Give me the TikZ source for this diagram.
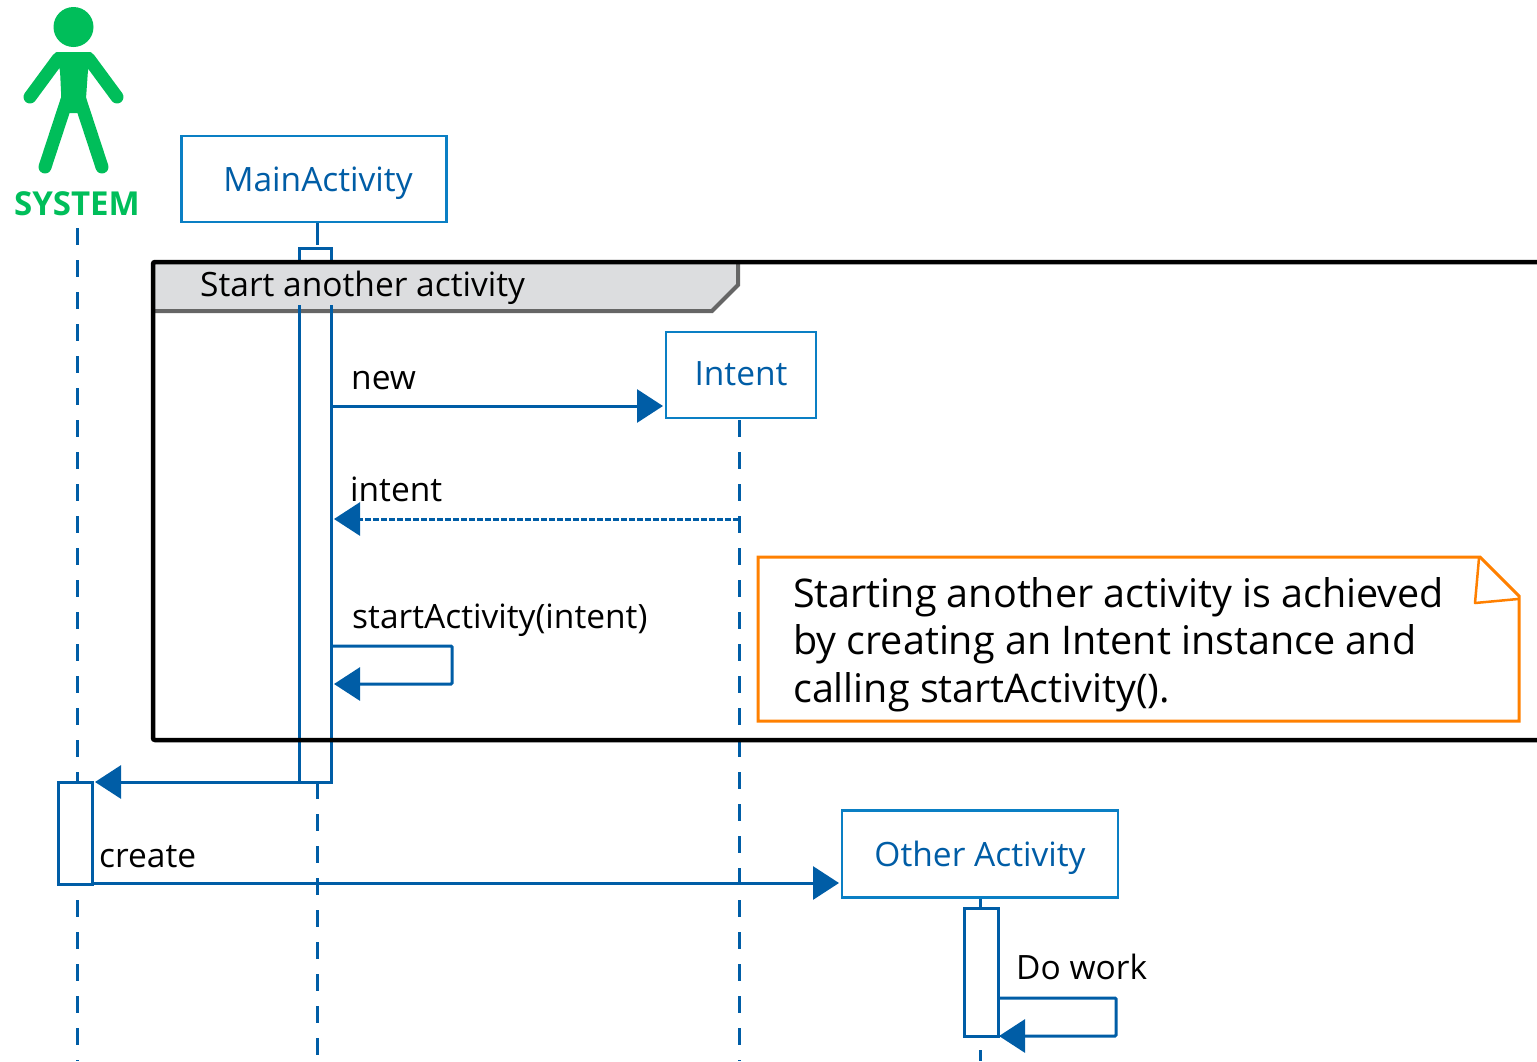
\documentclass[tikz,border=0pt]{standalone}
\usepackage{fontspec}
\setmainfont{Open Sans}
\usetikzlibrary{arrows.meta}
\definecolor{seqblue}{HTML}{005DA6}
\definecolor{boxblue}{HTML}{0A7FC4}
\definecolor{actorgreen}{HTML}{00BE5A}
\definecolor{noteorange}{HTML}{FF8000}
\definecolor{tabgray}{HTML}{DCDDDF}
\tikzset{
    lifebox/.style={draw=boxblue, line width=2.5pt, fill=white, text=seqblue, inner sep=0pt, text height=24pt, text depth=0pt, font=\fontsize{33.5}{36}\selectfont},
    lifeline/.style={seqblue, line width=3pt, dash pattern=on 17pt off 15pt},
    actbar/.style={draw=seqblue, line width=3pt, fill=white, anchor=north west, inner sep=0pt, outer sep=0pt},
    msg/.style={seqblue, line width=3pt, -{Triangle[length=26pt,width=33pt]}},
    msglabel/.style={anchor=base west, inner sep=0pt, text=black, font=\fontsize{33.5}{36}\selectfont},
    limb/.style={actorgreen, line width=13pt, line cap=round},
}
\begin{document}
\begin{tikzpicture}[x=1pt, y=-1pt]
    \useasboundingbox (0,0) rectangle (1537,1061);

    % Draw actor
    \fill[actorgreen] (73.5,27) circle (20);
    \fill[actorgreen, rounded corners=3pt] (54,52) -- (93,52) -- (88,70) -- (85,113) -- (62,113) -- (60,70) -- cycle;
    \draw[limb] (30,97) -- (58,59);
    \draw[limb] (117,97) -- (89,59);
    \draw[limb] (45,167) -- (67,100);
    \draw[limb] (102,167) -- (80,100);
    \node[text=actorgreen, inner sep=0pt, anchor=base, font=\bfseries\fontsize{33}{36}\selectfont] (system) at (77,215) {SYSTEM};

    % Draw lifeline heads
    \node[lifebox, minimum width=265pt, minimum height=86pt] (main) at (314,179) {\hspace*{8pt}MainActivity};
    \node[lifebox, minimum width=150pt, minimum height=86pt, text height=20pt] (intent) at (741,375) {Intent};
    \node[lifebox, minimum width=276pt, minimum height=87pt] (other) at (980,854) {Other Activity};

    % Draw lifelines
    \coordinate (systemtop) at (77,228);
    \coordinate (systemend) at (77,1061);
    \coordinate (maintop) at (317,245);
    \coordinate (mainlow) at (317,782);
    \coordinate (mainend) at (317,1061);
    \coordinate (intenttop) at (739,420);
    \coordinate (intentend) at (739,1061);
    \coordinate (othertop) at (980,908);
    \coordinate (otherlow) at (980,1050);
    \coordinate (otherend) at (980,1061);
    \draw[lifeline] (systemtop) -- (systemend);
    \draw[lifeline] (mainlow) -- (mainend);
    \draw[lifeline] (intenttop) -- (intentend);
    \draw[seqblue, line width=3pt] (main.south -| maintop) -- (maintop);
    \draw[seqblue, line width=3pt] (other.south -| othertop) -- (othertop);
    \draw[seqblue, line width=3pt] (otherlow) -- (otherend);

    % Draw activation bars
    \node[actbar, minimum width=32pt, minimum height=534pt] (mainbar) at (299,248) {};
    \node[actbar, minimum width=34pt, minimum height=102pt] (systembar) at (58,782) {};
    \node[actbar, minimum width=34pt, minimum height=128pt] (otherbar) at (964,908) {};

    % Draw frame
    \fill[tabgray] (154,264) -- (738,264) -- (738,285) -- (712,311) -- (154,311) -- cycle;
    \draw[black!60, line width=4pt] (154,311) -- (712,311) -- (738,285) -- (738,264);
    \draw[seqblue, line width=3pt] (299,305) -- (299,313);
    \draw[seqblue, line width=3pt] (331,305) -- (331,313);
    \draw[black, line width=4.5pt, rounded corners=2pt] (1537,262) -- (153,262) -- (153,740) -- (1537,740);
    \node[msglabel] (framelabel) at (200,296) {Start another activity};

    % Draw messages
    \coordinate (newstart) at (331,406);
    \coordinate (newend) at (663,406);
    \coordinate (backstart) at (739,519);
    \coordinate (backend) at (334,519);
    \coordinate (selfstart) at (331,646);
    \coordinate (selfend) at (334,684);
    \coordinate (retstart) at (299,782);
    \coordinate (retend) at (95,782);
    \coordinate (createstart) at (92,883);
    \coordinate (createend) at (839,883);
    \coordinate (workstart) at (998,998);
    \coordinate (workend) at (999,1036);
    \draw[msg] (newstart) -- (newend);
    \draw[msg, dash pattern=on 6pt off 2pt] (backstart) -- (backend);
    \draw[msg, rounded corners=1pt] (selfstart) -- (452,646) -- (452,684) -- (selfend);
    \draw[msg] (retstart) -- (retend);
    \draw[msg] (createstart) -- (createend);
    \draw[msg, rounded corners=1pt] (workstart) -- (1116,998) -- (1116,1036) -- (workend);

    % Draw message labels
    \node[msglabel] (newlabel) at (351,389) {new};
    \node[msglabel] (intentlabel) at (350,501) {intent};
    \node[msglabel] (selflabel) at (352,628) {startActivity(intent)};
    \node[msglabel] (createlabel) at (99,867) {create};
    \node[msglabel] (worklabel) at (1016,979) {Do work};

    % Draw note
    \draw[noteorange, line width=3pt, fill=white] (758,557) -- (1480,557) -- (1519,596) -- (1519,721) -- (758,721) -- cycle;
    \draw[noteorange, line width=2.5pt, line join=round] (1479,558) -- (1475,603) -- (1518,599);
    \node[anchor=north west, inner sep=0pt, align=left, text=black, font=\fontsize{39.5}{47.5}\selectfont] (notetext) at (793,577)
        {Starting another activity is achieved\\by creating an Intent instance and\\calling startActivity().};
\end{tikzpicture}
\end{document}
